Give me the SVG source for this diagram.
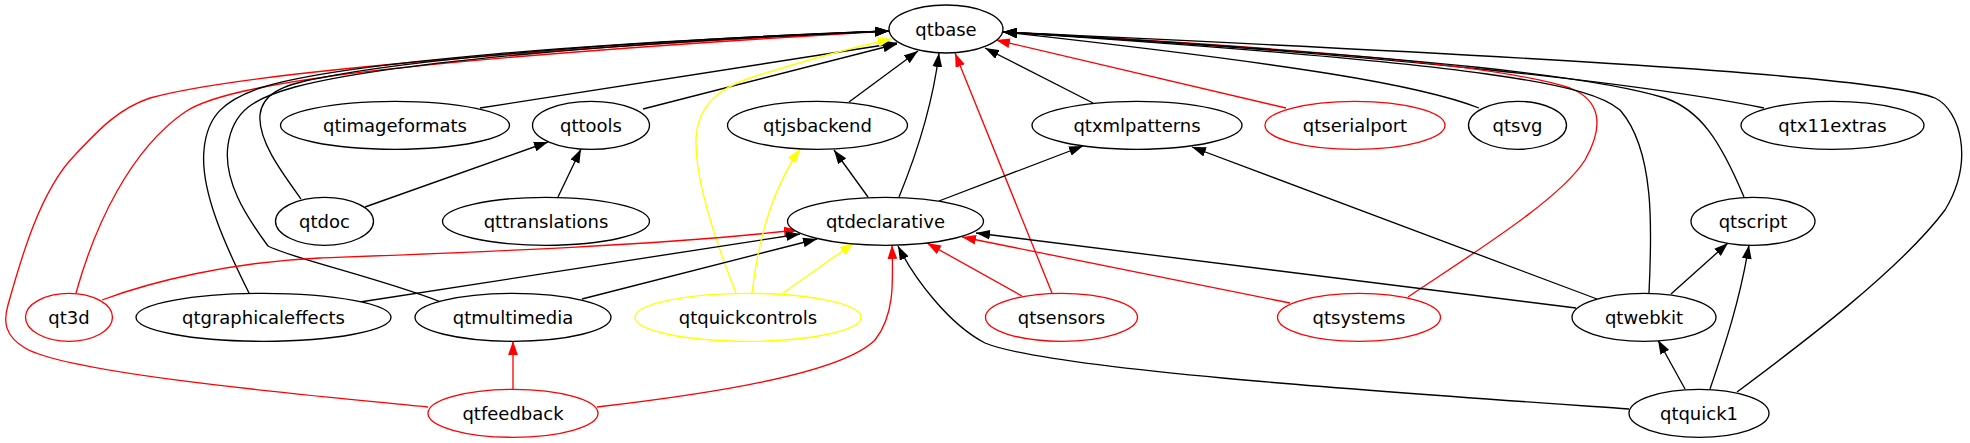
<svg xmlns="http://www.w3.org/2000/svg" width="1970" height="443" viewBox="0 0 1970 443">
<style>
.e{fill:none;stroke-width:1.33}
.k{stroke:#000}.r{stroke:#f00}.y{stroke:#ff0}
.k.e{marker-end:url(#ak)}.r.e{marker-end:url(#ar)}.y.e{marker-end:url(#ay)}
ellipse{fill:#fff;stroke-width:1.33}
.n ellipse{stroke:#000}.nr ellipse{stroke:#f00}.ny ellipse{stroke:#ff0}
text{font-family:"DejaVu Sans","Liberation Sans",sans-serif;font-size:18px;fill:#000;text-anchor:middle}
</style>
<defs>
<marker id="ak" markerUnits="userSpaceOnUse" markerWidth="14" markerHeight="10" viewBox="0 0 13.33 9.33" refX="13.33" refY="4.67" orient="auto"><path d="M0,0L13.33,4.67L0,9.33z" fill="#000"/></marker>
<marker id="ar" markerUnits="userSpaceOnUse" markerWidth="14" markerHeight="10" viewBox="0 0 13.33 9.33" refX="13.33" refY="4.67" orient="auto"><path d="M0,0L13.33,4.67L0,9.33z" fill="#f00"/></marker>
<marker id="ay" markerUnits="userSpaceOnUse" markerWidth="14" markerHeight="10" viewBox="0 0 13.33 9.33" refX="13.33" refY="4.67" orient="auto"><path d="M0,0L13.33,4.67L0,9.33z" fill="#ff0"/></marker>
</defs>
<g id="edges">
<path class="e r" d="M428,407 C330,397 70,375 25,348 C5,336 3,322 8,305 C20,262 40,190 75,155 C100,128 120,108 150,98 C250,70 600,45 889,31"/>
<path class="e r" d="M76,293 C95,225 130,150 185,112 C230,82 400,60 889,31"/>
<path class="e k" d="M249,293 C225,245 200,190 204,150 C207,115 225,100 260,88 C340,62 600,42 889,31"/>
<path class="e k" d="M441,302 C380,278 290,258 268,246 C245,215 223,180 228,145 C233,110 255,98 295,87 C390,62 630,42 889,31"/>
<path class="e k" d="M301,199 C280,170 258,140 260,115 C262,95 280,85 320,78 C420,58 640,40 889,31"/>
<path class="e k" d="M480,108 L897,43"/>
<path class="e k" d="M643,109 L897,44"/>
<path class="e y" d="M736,293 C715,240 695,180 696,140 C697,105 720,88 750,78 C800,62 850,48 892,39"/>
<path class="e k" d="M849,102 L918,51"/>
<path class="e k" d="M899,197 C915,158 932,110 939,53"/>
<path class="e r" d="M1052,293 L955,53"/>
<path class="e k" d="M1093,103 L985,48"/>
<path class="e r" d="M1286,108 L996,40"/>
<path class="e k" d="M1479,108 C1420,85 1300,65 1003,32"/>
<path class="e k" d="M1764,108 C1650,85 1400,55 1003,32"/>
<path class="e r" d="M1408,297 C1470,255 1560,200 1585,160 C1605,125 1600,100 1570,88 C1500,65 1300,48 1003,32"/>
<path class="e k" d="M1649,293 C1652,230 1655,150 1620,110 C1590,85 1500,65 1003,32"/>
<path class="e k" d="M1744,197 C1720,140 1700,110 1665,98 C1600,78 1450,58 1003,32"/>
<path class="e k" d="M1737,392 C1800,345 1900,270 1945,210 C1975,160 1960,110 1935,98 C1880,75 1500,55 1003,32"/>
<path class="e k" d="M365,207 L548,142"/>
<path class="e k" d="M558,197 L581,149"/>
<path class="e k" d="M868,197 L834,150"/>
<path class="e k" d="M939,201 L1083,146"/>
<path class="e k" d="M1597,299 L1192,147"/>
<path class="e r" d="M102,300 C150,282 230,262 320,258 C480,252 650,246 798,230"/>
<path class="e k" d="M360,302 L800,234"/>
<path class="e k" d="M582,299 L817,239"/>
<path class="e y" d="M783,293 L854,243"/>
<path class="e y" d="M752,293 C757,250 768,195 800,149"/>
<path class="e r" d="M597,407 C700,395 840,375 875,340 C895,315 893,280 892,245"/>
<path class="e k" d="M1629,409 C1400,393 1050,370 985,343 C950,325 915,280 898,246"/>
<path class="e r" d="M1022,296 L927,243"/>
<path class="e r" d="M1290,303 L962,237"/>
<path class="e k" d="M1576,308 L976,233"/>
<path class="e r" d="M513,389 L513,341"/>
<path class="e k" d="M1671,294 L1728,243"/>
<path class="e k" d="M1710,389 C1725,345 1740,300 1749,245"/>
<path class="e k" d="M1685,389 L1658,340"/>
</g>
<g id="qtbase" class="n"><ellipse cx="946" cy="29" rx="57" ry="24"/><text x="946" y="35.5">qtbase</text></g>
<g id="qtimageformats" class="n"><ellipse cx="395" cy="125.3" rx="114.5" ry="24"/><text x="395" y="131.8">qtimageformats</text></g>
<g id="qttools" class="n"><ellipse cx="591" cy="125.3" rx="58.5" ry="24"/><text x="591" y="131.8">qttools</text></g>
<g id="qtjsbackend" class="n"><ellipse cx="817.5" cy="125.3" rx="90" ry="24"/><text x="817.5" y="131.8">qtjsbackend</text></g>
<g id="qtxmlpatterns" class="n"><ellipse cx="1137" cy="125.3" rx="105" ry="24"/><text x="1137" y="131.8">qtxmlpatterns</text></g>
<g id="qtserialport" class="nr"><ellipse cx="1355" cy="125.3" rx="90" ry="24"/><text x="1355" y="131.8">qtserialport</text></g>
<g id="qtsvg" class="n"><ellipse cx="1517.5" cy="125.3" rx="49" ry="24"/><text x="1517.5" y="131.8">qtsvg</text></g>
<g id="qtx11extras" class="n"><ellipse cx="1832.5" cy="125.3" rx="91.5" ry="24"/><text x="1832.5" y="131.8">qtx11extras</text></g>
<g id="qtdoc" class="n"><ellipse cx="324.5" cy="221.3" rx="49" ry="24"/><text x="324.5" y="227.8">qtdoc</text></g>
<g id="qttranslations" class="n"><ellipse cx="546" cy="221.3" rx="103.5" ry="24"/><text x="546" y="227.8">qttranslations</text></g>
<g id="qtdeclarative" class="n"><ellipse cx="885.5" cy="221.3" rx="98" ry="24"/><text x="885.5" y="227.8">qtdeclarative</text></g>
<g id="qtscript" class="n"><ellipse cx="1753" cy="221.3" rx="62" ry="24"/><text x="1753" y="227.8">qtscript</text></g>
<g id="qt3d" class="nr"><ellipse cx="69" cy="317.3" rx="43.5" ry="24"/><text x="69" y="323.8">qt3d</text></g>
<g id="qtgraphicaleffects" class="n"><ellipse cx="263.5" cy="317.3" rx="127.5" ry="24"/><text x="263.5" y="323.8">qtgraphicaleffects</text></g>
<g id="qtmultimedia" class="n"><ellipse cx="513" cy="317.3" rx="98" ry="24"/><text x="513" y="323.8">qtmultimedia</text></g>
<g id="qtquickcontrols" class="ny"><ellipse cx="748" cy="317.3" rx="113" ry="24"/><text x="748" y="323.8">qtquickcontrols</text></g>
<g id="qtsensors" class="nr"><ellipse cx="1061.5" cy="317.3" rx="76" ry="24"/><text x="1061.5" y="323.8">qtsensors</text></g>
<g id="qtsystems" class="nr"><ellipse cx="1359" cy="317.3" rx="81.5" ry="24"/><text x="1359" y="323.8">qtsystems</text></g>
<g id="qtwebkit" class="n"><ellipse cx="1644" cy="317.3" rx="72" ry="24"/><text x="1644" y="323.8">qtwebkit</text></g>
<g id="qtfeedback" class="nr"><ellipse cx="513" cy="413.3" rx="85" ry="24"/><text x="513" y="419.8">qtfeedback</text></g>
<g id="qtquick1" class="n"><ellipse cx="1699" cy="413.3" rx="70" ry="24"/><text x="1699" y="419.8">qtquick1</text></g>
</svg>
